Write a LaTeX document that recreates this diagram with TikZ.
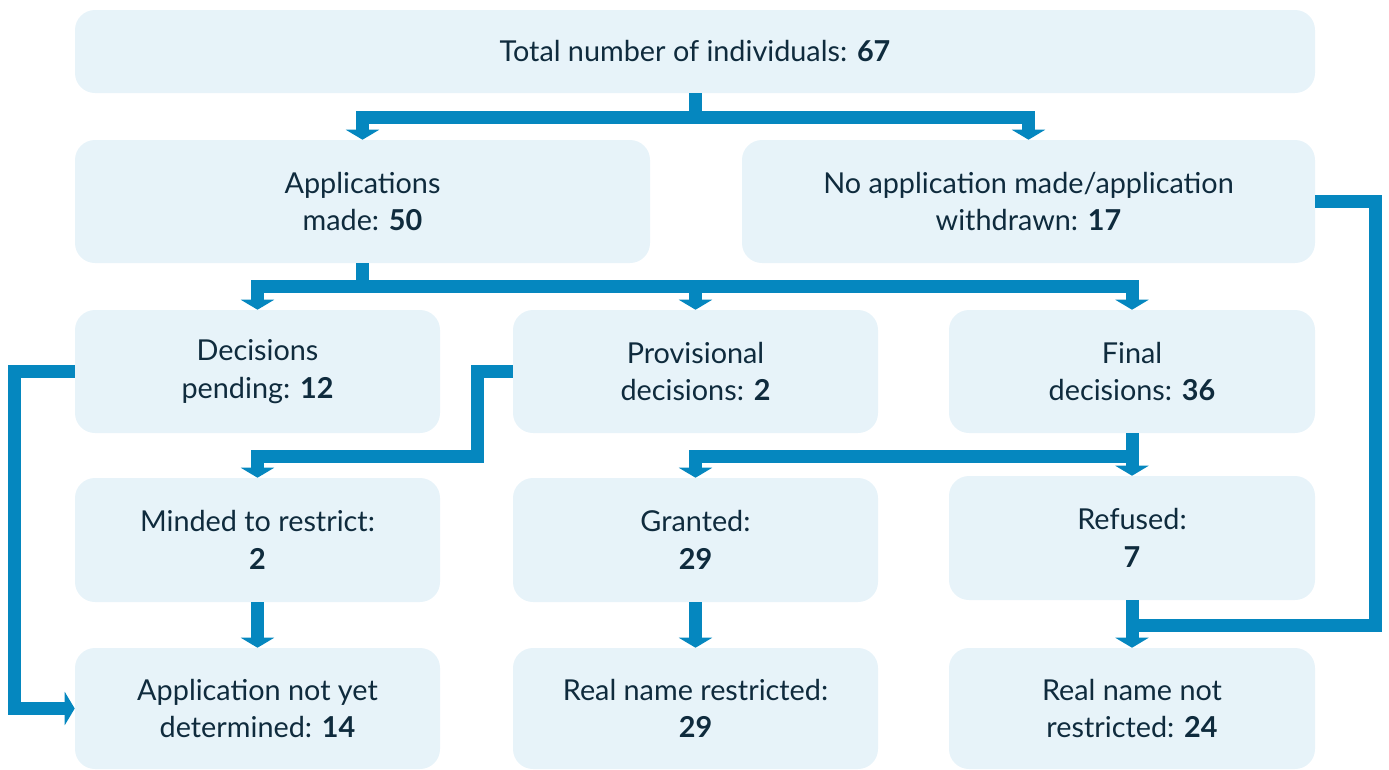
\documentclass[tikz,border=0pt]{standalone}
\usepackage{fontspec}
\setmainfont{Lato}
\usetikzlibrary{arrows.meta,calc}
\definecolor{boxc}{HTML}{E7F3F9}
\definecolor{linec}{HTML}{0587BF}
\definecolor{txtc}{HTML}{0F2B3D}
\tikzset{
  box/.style={fill=boxc, rounded corners=15pt, inner sep=0pt, align=center, text=txtc,
    font=\fontsize{21.6}{28}\selectfont},
  ln/.style={draw=linec, line width=9.75pt, line join=miter, line cap=butt},
  >={Triangle[width=24.75pt,length=7.5pt]}
}
\begin{document}
\begin{tikzpicture}[x=0.75pt,y=-0.75pt]
\useasboundingbox (0,0) rectangle (1389,769);
% boxes
\node[box, minimum width=930pt, minimum height=62.25pt] (top) at (695,51.5) {Total number of individuals: \textbf{67}};
\node[box, minimum width=431.25pt, minimum height=92.25pt] (app) at (362.5,201.5) {Applications\\made: \textbf{50}};
\node[box, minimum width=429.75pt, minimum height=92.25pt] (no) at (1028.5,201.5) {No application made/application\\withdrawn: \textbf{17}};
\node[box, minimum width=273.75pt, minimum height=92.25pt] (pend) at (257.5,371.5) {Decisions\\pending: \textbf{12}};
\node[box, minimum width=273.75pt, minimum height=92.25pt] (prov) at (695.5,371.5) {Provisional\\decisions: \textbf{2}};
\node[box, minimum width=274.5pt, minimum height=92.25pt] (fin) at (1132,371.5) {Final\\decisions: \textbf{36}};
\node[box, minimum width=273.75pt, minimum height=93pt] (mind) at (257.5,540) {Minded to restrict:\\\textbf{2}};
\node[box, minimum width=273.75pt, minimum height=93pt] (gran) at (695.5,540) {Granted:\\\textbf{29}};
\node[box, minimum width=274.5pt, minimum height=93pt] (ref) at (1132,538) {Refused:\\\textbf{7}};
\node[box, minimum width=273.75pt, minimum height=90.75pt] (und) at (257.5,708.5) {Application not yet\\determined: \textbf{14}};
\node[box, minimum width=273.75pt, minimum height=90.75pt] (real) at (695.5,708.5) {Real name restricted:\\\textbf{29}};
\node[box, minimum width=274.5pt, minimum height=90.75pt] (notr) at (1132,708.5) {Real name not\\restricted: \textbf{24}};
% junctions
\coordinate (j1) at (695,117);
\coordinate (j2) at (362.5,286);
\coordinate (j4) at (1132,456);
\coordinate (j6) at (1132,625);
% connectors
\draw[ln] (top.south) -- (j1);
\draw[ln,->] (j1) -| (app.north);
\draw[ln,->] (j1) -| (no.north);
\draw[ln] (app.south) -- (j2);
\draw[ln,->] (j2) -| (pend.north);
\draw[ln,->] (j2) -| (fin.north);
\draw[ln,->] (prov.north |- j2) -- (prov.north);
\draw[ln,->] (pend.west) -- ++(-60,0) |- (und.west);
\draw[ln,->] (prov.west) -- ++(-35,0) -- ++(0,85) -| (mind.north);
\draw[ln,->] (fin.south) -- (ref.north);
\draw[ln,->] (j4) -| (gran.north);
\draw[ln,->] (mind.south) -- (und.north);
\draw[ln,->] (gran.south) -- (real.north);
\draw[ln,->] (ref.south) -- (notr.north);
\draw[ln] (no.east) -- ++(60,0) |- ($(j6)+(-6.5,0)$);
\end{tikzpicture}
\end{document}
